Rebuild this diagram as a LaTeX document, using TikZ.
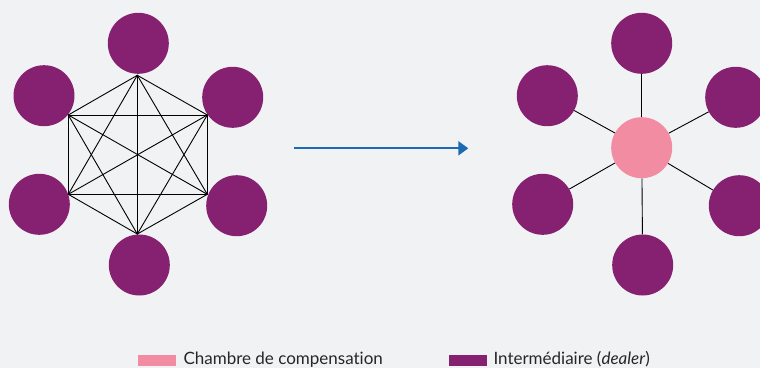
\documentclass[tikz,border=0pt]{standalone}
\usepackage{fontspec}
\setmainfont{Lato}[Ligatures=NoCommon]
\usetikzlibrary{arrows.meta}
\definecolor{bgc}{HTML}{F1F2F4}
\definecolor{dealer}{HTML}{862070}
\definecolor{ccp}{HTML}{F28CA2}
\definecolor{arrowblue}{HTML}{1C6AB4}
\tikzset{
  dealernode/.style={circle, fill=dealer, minimum size=61pt, inner sep=0pt},
  ccpnode/.style={circle, fill=ccp, minimum size=61pt, inner sep=0pt},
  link/.style={draw=black, line width=0.9pt},
  legendtext/.style={font=\fontsize{17}{20}\selectfont, anchor=base west, inner sep=0pt, text=black!85},
}
\begin{document}
\begin{tikzpicture}[x=1pt,y=-1pt]
\fill[bgc] (0,0) rectangle (760,368);
\useasboundingbox (0,0) rectangle (760,368);
% left: bilateral network
\node[dealernode] (lt) at (138.3,43.3) {};
\node[dealernode] (lul) at (44,95.7) {};
\node[dealernode] (lur) at (232.7,97.3) {};
\node[dealernode] (lll) at (39.3,204.3) {};
\node[dealernode] (llr) at (236.7,205.7) {};
\node[dealernode] (lb) at (139.3,265) {};
\coordinate (h1) at (137.3,75.3);
\coordinate (h2) at (68.3,115);
\coordinate (h3) at (207.3,115);
\coordinate (h4) at (68.3,194.3);
\coordinate (h5) at (207.3,194.3);
\coordinate (h6) at (137.3,234);
\foreach \a/\b in {h1/h2,h1/h3,h1/h4,h1/h5,h1/h6,h2/h3,h2/h4,h2/h5,h2/h6,h3/h4,h3/h5,h3/h6,h4/h5,h4/h6,h5/h6}
  \draw[link, line cap=round] (\a) -- (\b);
% arrow
\coordinate (as) at (294.3,148.3);
\coordinate (ae) at (468.3,148.3);
\draw[arrowblue, line width=2.2pt, -{Triangle[length=10pt,width=14pt]}] (as) -- (ae);
% right: central clearing
\node[ccpnode] (c) at (641.7,147.7) {};
\node[dealernode] (rt) at (641.7,43.3) {};
\node[dealernode] (rul) at (547.3,95.7) {};
\node[dealernode] (rur) at (735.7,97.3) {};
\node[dealernode] (rll) at (542.7,204.3) {};
\node[dealernode] (rlr) at (739.3,205.7) {};
\node[dealernode] (rb) at (642.7,265) {};
\foreach \n in {rt,rul,rur,rll,rlr,rb}
  \draw[link] (c) -- (\n);
% legend
\node[fill=ccp, minimum width=38pt, minimum height=11.7pt, inner sep=0pt, anchor=north west] (k1) at (137.7,354.5) {};
\node[legendtext] (t1) at (183.3,364.5) {Chambre de compensation};
\node[fill=dealer, minimum width=38.4pt, minimum height=11.7pt, inner sep=0pt, anchor=north west] (k2) at (448.3,354.5) {};
\node[legendtext] (t2) at (493.3,364.5) {Intermédiaire (\textit{dealer})};
\end{tikzpicture}
\end{document}
